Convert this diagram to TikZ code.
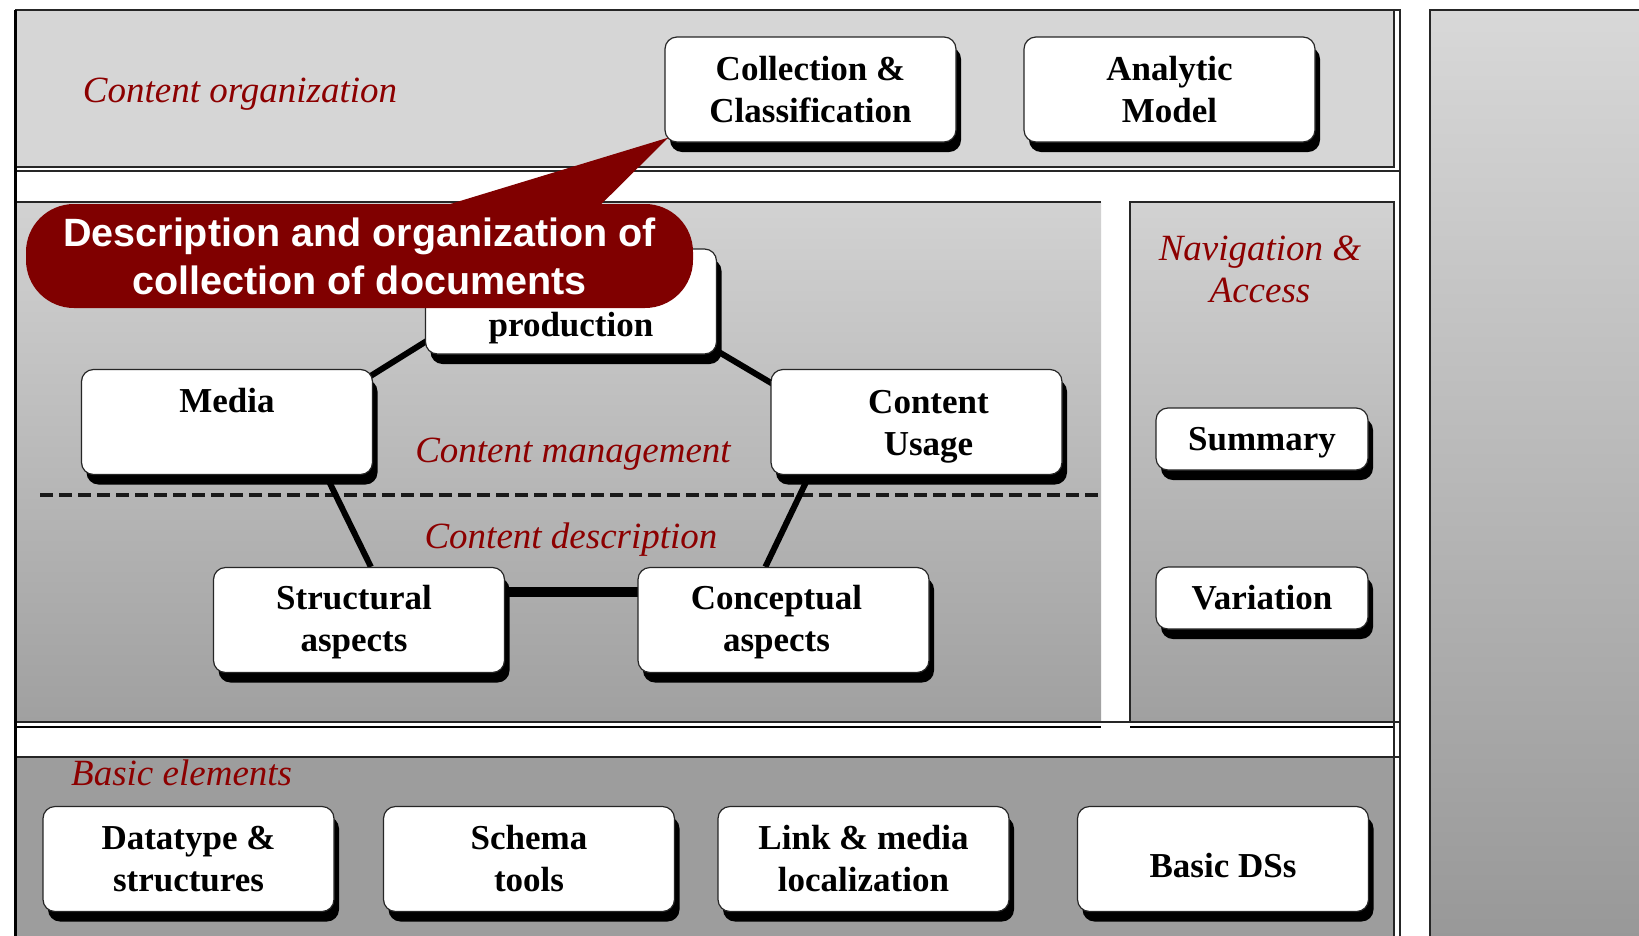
\documentclass[tikz,border=0pt]{standalone}
\usepackage{fontspec}
\setmainfont{Liberation Serif}
\newfontfamily\callfont{Liberation Sans}
\usetikzlibrary{calc,shadows}
\definecolor{lblred}{RGB}{140,0,0}
\definecolor{callred}{RGB}{128,0,0}
\definecolor{toppanel}{RGB}{214,214,214}
\definecolor{midtop}{RGB}{210,210,210}
\definecolor{midbot}{RGB}{160,160,160}
\definecolor{botpanel}{RGB}{157,157,157}
\definecolor{rtop}{RGB}{216,216,216}
\definecolor{rbot}{RGB}{152,152,152}
\pgfdeclarelayer{panels}
\pgfdeclarelayer{links}
\pgfdeclarelayer{front}
\pgfsetlayers{panels,links,main,front}
\newcommand{\dropby}[2]{\raisebox{-#1}[\height][\depth]{#2}}
\begin{document}
\begin{tikzpicture}[x=1pt,y=-1pt,
  box/.style={draw=black!85, line width=1.2pt, fill=white, rounded corners=12pt,
    align=center, font=\fontsize{35}{42}\selectfont\bfseries, inner sep=0pt,
    drop shadow={shadow xshift=5pt, shadow yshift=-10pt, fill=black, opacity=1}},
  bigbox/.style={box, minimum width=291pt, minimum height=105pt},
  smallbox/.style={box, minimum width=212pt, minimum height=62pt},
  lbl/.style={text=lblred, font=\fontsize{37}{42}\selectfont\itshape, align=center, inner sep=0pt},
  link/.style={line width=6pt, black},
  panelline/.style={line width=1.2pt, black!85},
  callout/.style={fill=callred, rounded corners=48pt, minimum width=667pt, minimum height=104pt,
    text=white, font=\callfont\bfseries\fontsize{39.5}{48}\selectfont, align=center, inner sep=0pt}
]
\useasboundingbox (0,0) rectangle (1639,935);
\begin{pgfonlayer}{panels}
\fill[white] (0,0) rectangle (1639,935);
% top panel
\fill[toppanel] (15,10) rectangle (1394,167);
\draw[panelline] (15,167) -- (1394,167) -- (1394,10);
\draw[panelline] (15,171) -- (1400,171);
% middle panels
\shade[top color=midtop, bottom color=midbot] (15,202) rectangle (1101,722);
\draw[panelline] (15,202) -- (1101,202);
\shade[top color=midtop, bottom color=midbot] (1130,202) rectangle (1394,722);
\draw[panelline] (1130,722) -- (1130,202) -- (1394,202) -- (1394,722);
\draw[panelline] (15,722) -- (1400,722);
\draw[line width=2pt] (15,727) -- (1101,727);
\draw[line width=2pt] (1130,727) -- (1394,727);
% bottom panel
\fill[botpanel] (15,757) rectangle (1394,940);
\draw[panelline] (15,757) -- (1400,757);
\draw[panelline] (1394,722) -- (1394,940);
% container frame
\draw[panelline] (15,10) -- (1400,10) -- (1400,940);
\draw[line width=3pt] (15,10) -- (15,940);
% right panel
\shade[top color=rtop, bottom color=rbot] (1430,10) rectangle (1660,940);
\draw[line width=2pt, black!85] (1430,940) -- (1430,10) -- (1660,10);
% dashed separator
\draw[line width=3.5pt, black!90, dash pattern=on 13pt off 6pt] (40,495) -- (1101,495);
\end{pgfonlayer}

% labels
\node[lbl] (lorg) at (240,94) {Content organization};
\node[lbl] (lnav) at (1260,269) {Navigation \&\\Access};
\node[lbl] (lman) at (573,454) {Content management};
\node[lbl] (ldesc) at (571,540) {Content description};
\node[lbl, anchor=west] (lbas) at (71,773) {Basic elements};

% boxes
\node[bigbox] (coll) at (810.5,89.5) {Collection \&\\Classification};
\node[bigbox] (anal) at (1169.5,89.5) {Analytic\\Model};
\node[bigbox] (prod) at (571,301.5) {\strut\\\dropby{3pt}{production}};
\node[bigbox] (media) at (227,422) {\dropby{6pt}{Media}\\\strut};
\node[bigbox] (usage) at (916.5,422) {\hspace*{24pt}\dropby{5pt}{Content}\\\hspace*{24pt}\dropby{5pt}{Usage}};
\node[bigbox] (struct) at (359,620) {\dropby{2pt}{Structural}\hspace*{10pt}\\\dropby{2pt}{aspects}\hspace*{10pt}};
\node[bigbox] (concept) at (783.5,620) {\dropby{2pt}{Conceptual}\hspace*{14pt}\\\dropby{2pt}{aspects}\hspace*{14pt}};
\node[smallbox] (summary) at (1262,439) {\dropby{4pt}{Summary}};
\node[smallbox] (variation) at (1262,598) {Variation};
\node[bigbox] (datatype) at (188.5,859) {Datatype \&\\structures};
\node[bigbox] (schema) at (529,859) {Schema\\tools};
\node[bigbox] (linkmed) at (863.5,859) {Link \& media\\localization};
\node[bigbox] (basicds) at (1223,859) {\dropby{7pt}{Basic DSs}};

% connectors
\begin{pgfonlayer}{links}
\draw[link] ($(media.north east)+(-4,8)$) -- ($(prod.south west)+(4,-15)$);
\draw[link] ($(prod.south east)+(-4,-6)$) -- ($(usage.north west)+(4,16)$);
\draw[link] ($(media.south west)+(245,0)$) -- ($(struct.north west)+(158,0)$);
\draw[link] ($(usage.south west)+(39,0)$) -- ($(concept.north west)+(128,0)$);
\draw[line width=10pt] ($(struct.north east)+(-4,25)$) -- ($(concept.north west)+(4,25)$);
\end{pgfonlayer}

% callout
\begin{pgfonlayer}{front}
\node[callout] (call) at (359.5,256) {Description and organization of\\collection of documents};
\fill[callred] ($(coll.south west)+(4,-5)$) -- ($(call.north)+(52,12)$) -- ($(call.north)+(230,12)$) -- cycle;
\end{pgfonlayer}
\end{tikzpicture}
\end{document}
